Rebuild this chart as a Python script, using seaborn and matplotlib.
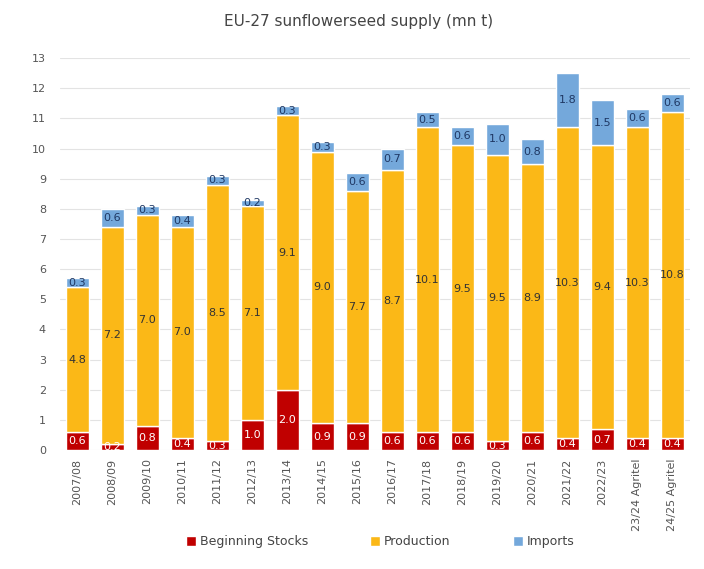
import numpy as np
import pandas as pd
import matplotlib
matplotlib.use("Agg")
import matplotlib.pyplot as plt
import seaborn as sns

#---- D A T A ----

seasons = ["2007/08", "2008/09", "2009/10", "2010/11", "2011/12", "2012/13",
           "2013/14", "2014/15", "2015/16", "2016/17", "2017/18", "2018/19",
           "2019/20", "2020/21", "2021/22", "2022/23", "23/24 Agritel",
           "24/25 Agritel"]
stocks = [0.6, 0.2, 0.8, 0.4, 0.3, 1.0, 2.0, 0.9, 0.9, 0.6, 0.6, 0.6,
          0.3, 0.6, 0.4, 0.7, 0.4, 0.4]
production = [4.8, 7.2, 7.0, 7.0, 8.5, 7.1, 9.1, 9.0, 7.7, 8.7, 10.1, 9.5,
              9.5, 8.9, 10.3, 9.4, 10.3, 10.8]
imports = [0.3, 0.6, 0.3, 0.4, 0.3, 0.2, 0.3, 0.3, 0.6, 0.7, 0.5, 0.6,
           1.0, 0.8, 1.8, 1.5, 0.6, 0.6]
yticks = list(range(0, 14))

#---- P L O T ----

sns.set_theme(style="white")
plt.rcParams["font.family"] = ["Liberation Sans Narrow", "DejaVu Sans"]

df = pd.DataFrame({"season": seasons, "stocks": stocks,
                   "production": production, "imports": imports})
bottom_imp = df["stocks"] + df["production"]

fig = plt.figure(figsize=(7.04, 5.69), dpi=100)
ax = fig.add_axes([0.085, 0.209, 0.895, 0.689])

c_stock = "#C00000"
c_prod = "#FBB817"
c_imp = "#74A8DB"

sns.barplot(data=df, x="season", y="stocks", color=c_stock, width=0.66,
            saturation=1, ax=ax, label="Beginning Stocks")
sns.barplot(data=df, x="season", y="production", color=c_prod, width=0.66,
            saturation=1, ax=ax, bottom=df["stocks"], label="Production")
sns.barplot(data=df, x="season", y="imports", color=c_imp, width=0.66,
            saturation=1, ax=ax, bottom=bottom_imp, label="Imports")

# value labels inside the segments
txt_cols = ["white", "#333333", "#1F3864"]
for cont, col in zip(ax.containers, txt_cols):
    ax.bar_label(cont, fmt="%.1f", label_type="center", color=col,
                 fontsize=8)

ax.set_ylim(0, 13)
ax.set_yticks(yticks)
ax.set_xlim(-0.5, len(seasons) - 0.5)
ax.yaxis.grid(True, color="#E3E3E3", linewidth=0.8)
ax.set_axisbelow(True)
sns.despine(ax=ax, left=True, bottom=True)
ax.tick_params(axis="y", labelsize=8, colors="#555555", pad=10, length=0)
ax.tick_params(axis="x", labelsize=8, colors="#555555", rotation=90,
               length=0, pad=6)
ax.set_xlabel("")
ax.set_ylabel("")

handles, labels = ax.get_legend_handles_labels()
if ax.get_legend() is not None:
    ax.get_legend().remove()

fig.suptitle("EU-27 sunflowerseed supply (mn t)", x=0.51, y=0.975,
             fontsize=11, color="#444444")

fig.legend(handles, labels, loc="center",
           bbox_to_anchor=(0.54, 0.048), ncol=3, frameon=False,
           fontsize=9, handlelength=0.8, handleheight=0.9,
           handletextpad=0.3, columnspacing=5, labelcolor="#444444")

plt.savefig("out.png", dpi=100)
